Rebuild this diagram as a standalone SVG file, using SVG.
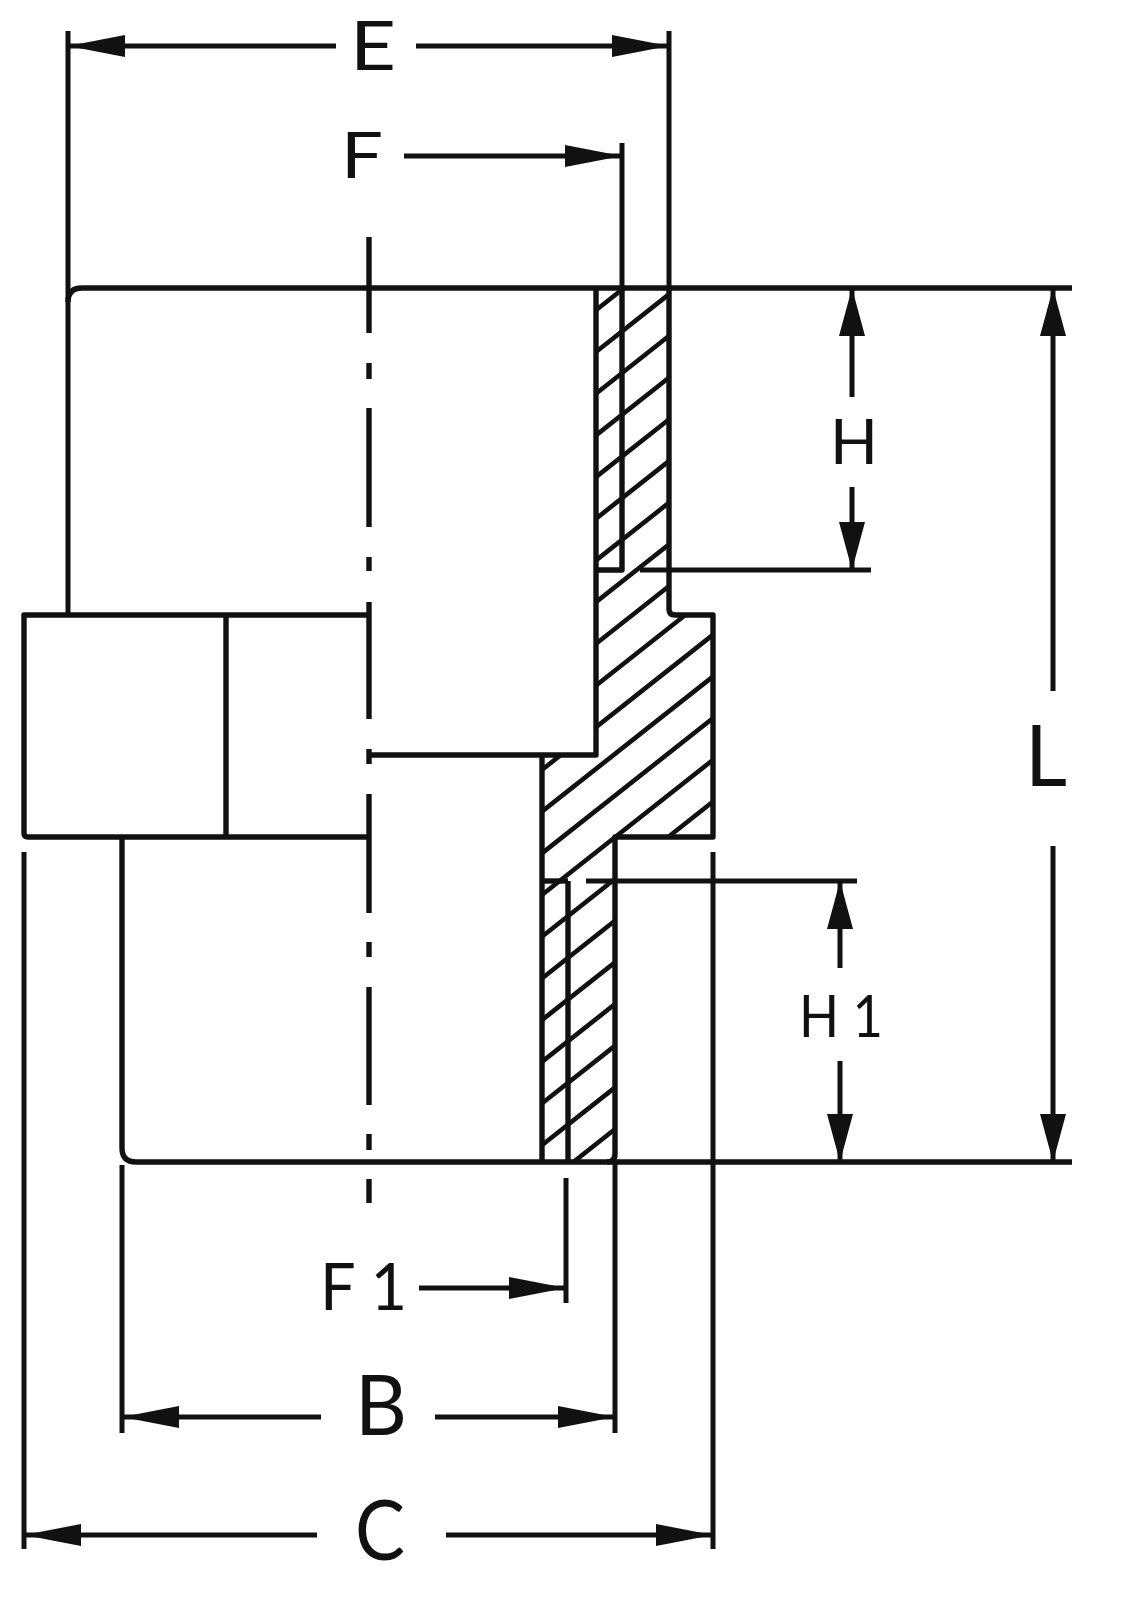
<svg xmlns="http://www.w3.org/2000/svg" width="1146" height="1600" viewBox="0 0 1146 1600">
<style>
.o{fill:none;stroke:#111;stroke-width:5.4;stroke-linejoin:round}
.d{fill:none;stroke:#111;stroke-width:5}
.h{fill:none;stroke:#111;stroke-width:4.6}
.c{fill:none;stroke:#111;stroke-width:5.4}
.t{font-family:"Lato","Open Sans",sans-serif;fill:#111;font-weight:400}
</style>
<defs>
<marker id="ah" markerUnits="userSpaceOnUse" markerWidth="58" markerHeight="24" refX="57" refY="12" orient="auto-start-reverse"><path d="M0 1L57 12L0 23Z" fill="#111"/></marker>
<marker id="av" markerUnits="userSpaceOnUse" markerWidth="49" markerHeight="28" refX="48" refY="14" orient="auto-start-reverse"><path d="M0 1L48 14L0 27Z" fill="#111"/></marker>
<clipPath id="sec"><path d="M596 288H669V615H713V837H615V1162H542V755H596Z"/></clipPath>
</defs>
<rect width="1146" height="1600" fill="#fff"/>
<g id="hatch" clip-path="url(#sec)">
<path class="h" d="M530 362.3L725 208.3M530 404L725 250M530 445.7L725 291.7M530 487.4L725 333.4M530 529.1L725 375.1M530 570.8L725 416.8M530 612.5L725 458.5M530 654.2L725 500.2M530 695.9L725 541.9M530 737.6L725 583.6M530 779.3L725 625.3M530 821L725 667M530 862.7L725 708.7M530 904.4L725 750.4M530 946.1L725 792.1M530 987.8L725 833.8M530 1029.5L725 875.5M530 1071.2L725 917.2M530 1112.9L725 958.9M530 1154.6L725 1000.6M530 1196.3L725 1042.3"/>
</g>
<g id="part">
<path class="o" d="M68 302Q68 288 82 288H1072"/>
<path class="o" d="M596 288V755H369"/>
<path class="o" d="M669 288V609Q669 615 675 615H713V837H615V1154Q615 1162 607 1162"/>
<path class="o" d="M542 755V1162"/>
<path class="o" d="M369 615H24V833Q24 837 28 837H369"/>
<path class="o" d="M226 615V837"/>
<path class="o" d="M122 837V1148Q122 1162 136 1162H1072"/>
<path class="o" d="M622 288V570H596"/>
<path class="o" d="M568 881V1162"/>
<path class="o" d="M542 881H568"/>
<path class="c" d="M369 237V333M369 363V379M369 408V527M369 557V571M369 602V719M369 749V764M369 794V913M369 942V957M369 987V1105M369 1134V1150M369 1179V1203"/>
</g>
<g id="connectors">
<path class="d" d="M68 31V615"/>
<path class="d" d="M669 31V288"/>
<path class="d" d="M622 143V288"/>
<path class="d" d="M640 570H871"/>
<path class="d" d="M586 881H857"/>
<path class="d" d="M24 852V1549"/>
<path class="d" d="M713 852V1549"/>
<path class="d" d="M122 1165V1433"/>
<path class="d" d="M615 1162V1433"/>
<path class="d" d="M566 1178V1303"/>
<line class="d" x1="336" y1="46" x2="68" y2="46" marker-end="url(#ah)"/>
<line class="d" x1="416" y1="46" x2="669" y2="46" marker-end="url(#ah)"/>
<line class="d" x1="404" y1="156" x2="622" y2="156" marker-end="url(#ah)"/>
<line class="d" x1="419" y1="1288" x2="566" y2="1288" marker-end="url(#ah)"/>
<line class="d" x1="321" y1="1417" x2="122" y2="1417" marker-end="url(#ah)"/>
<line class="d" x1="435" y1="1417" x2="615" y2="1417" marker-end="url(#ah)"/>
<line class="d" x1="317" y1="1535" x2="24" y2="1535" marker-end="url(#ah)"/>
<line class="d" x1="446" y1="1535" x2="713" y2="1535" marker-end="url(#ah)"/>
<line class="d" x1="852" y1="397" x2="852" y2="288" marker-end="url(#av)"/>
<line class="d" x1="852" y1="487" x2="852" y2="570" marker-end="url(#av)"/>
<line class="d" x1="840" y1="968" x2="840" y2="881" marker-end="url(#av)"/>
<line class="d" x1="840" y1="1061" x2="840" y2="1162" marker-end="url(#av)"/>
<line class="d" x1="1053" y1="691" x2="1053" y2="288" marker-end="url(#av)"/>
<line class="d" x1="1053" y1="846" x2="1053" y2="1162" marker-end="url(#av)"/>
</g>
<g id="labels">
<text class="t" x="350" y="70" font-size="68" textLength="46" lengthAdjust="spacingAndGlyphs">E</text>
<text class="t" x="341" y="178" font-size="64" textLength="42" lengthAdjust="spacingAndGlyphs">F</text>
<text class="t" x="830" y="464" font-size="61" textLength="48" lengthAdjust="spacingAndGlyphs">H</text>
<text class="t" x="799" y="1037" font-size="58" textLength="84" lengthAdjust="spacingAndGlyphs">H 1</text>
<text class="t" x="1025" y="786" font-size="85" textLength="42" lengthAdjust="spacingAndGlyphs">L</text>
<text class="t" x="320" y="1310" font-size="65" textLength="87" lengthAdjust="spacingAndGlyphs">F 1</text>
<text class="t" x="355" y="1435" font-size="83" textLength="52" lengthAdjust="spacingAndGlyphs">B</text>
<text class="t" x="355" y="1560" font-size="84" textLength="50" lengthAdjust="spacingAndGlyphs">C</text>
</g>
</svg>
